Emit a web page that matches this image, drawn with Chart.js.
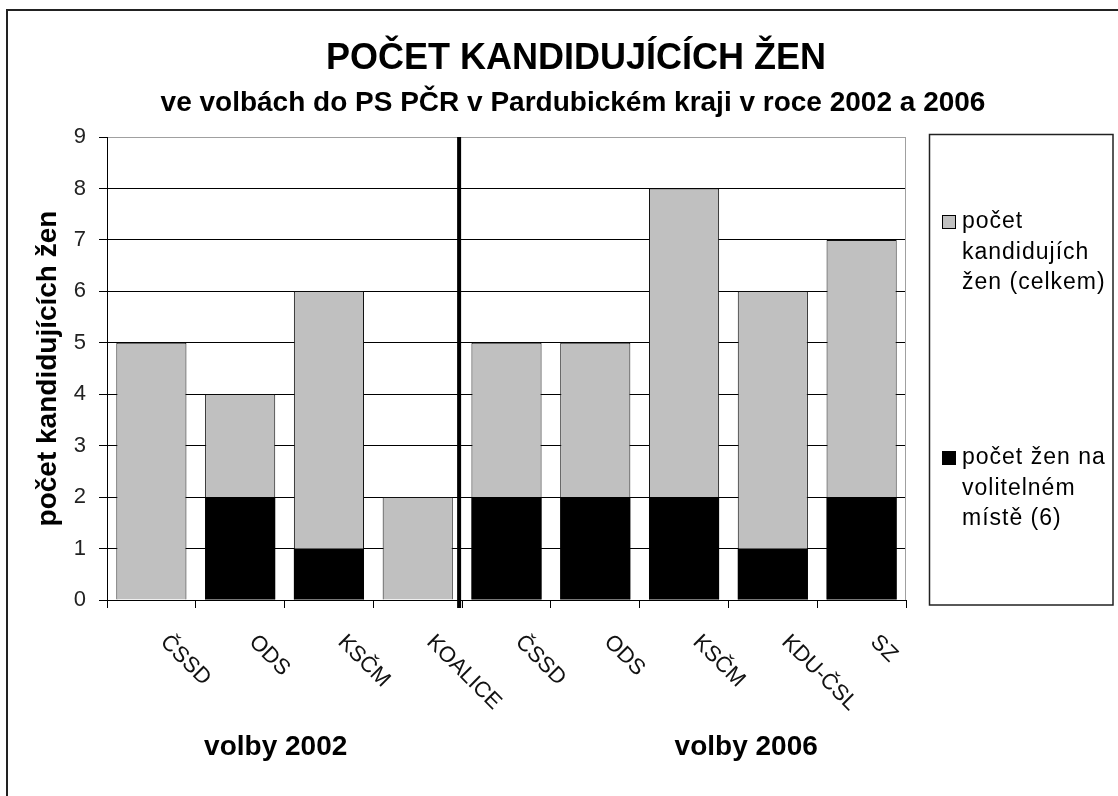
<!DOCTYPE html>
<html>
<head>
<meta charset="utf-8">
<script src="https://cdn.jsdelivr.net/npm/chart.js@4.4.1/dist/chart.umd.min.js"></script>
<style>
  html, body { margin: 0; padding: 0; background: #fff; }
  #wrap { width: 1118px; height: 796px; }
</style>
</head>
<body>
<div id="wrap"><canvas id="zeny" width="1118" height="796"></canvas></div>
<script>
// data
const parties = ['ČSSD', 'ODS', 'KSČM', 'KOALICE', 'ČSSD', 'ODS', 'KSČM', 'KDU-ČSL', 'SZ'];
const totalWomen = [5, 4, 6, 2, 5, 5, 8, 6, 7];
const electableWomen = [0, 2, 1, 0, 2, 2, 2, 1, 2];
const groupLabels = ['volby 2002', 'volby 2006'];
const seriesNames = [
    ['počet', 'kandidujích', 'žen (celkem)'],
    ['počet žen na', 'volitelném', 'místě (6)']
];
const titleText = 'POČET KANDIDUJÍCÍCH ŽEN';
const subtitleText = 've volbách do PS PČR v Pardubickém kraji v roce 2002 a 2006';
const yTitle = 'počet kandidujících žen';

const FONT = '"Liberation Sans", Arial, sans-serif';
const GREY = '#c0c0c0';

const decor = {
    id: 'decor',
    afterDraw(chart) {
        const ctx = chart.ctx;
        const x = chart.scales.x;
        const area = chart.chartArea;
        ctx.save();

        // outer frame (left + top only, picture is cropped)
        ctx.strokeStyle = '#222';
        ctx.lineWidth = 2;
        ctx.beginPath();
        ctx.moveTo(7, 796);
        ctx.lineTo(7, 10);
        ctx.lineTo(1118, 10);
        ctx.stroke();

        // titles
        ctx.fillStyle = '#000';
        ctx.textAlign = 'center';
        ctx.textBaseline = 'alphabetic';
        ctx.font = 'bold 36px ' + FONT;
        ctx.fillText(titleText, 576, 69);
        ctx.font = 'bold 28px ' + FONT;
        ctx.fillText(subtitleText, 573, 111);

        // plot border on the right
        ctx.strokeStyle = '#a0a0a0';
        ctx.lineWidth = 1;
        ctx.beginPath();
        ctx.moveTo(area.right - 0.5, area.top);
        ctx.lineTo(area.right - 0.5, area.bottom);
        ctx.stroke();

        // thick separator between the two elections
        const sep = (x.getPixelForValue(3) + x.getPixelForValue(4)) / 2 - 3;
        ctx.strokeStyle = '#000';
        ctx.lineWidth = 4;
        ctx.beginPath();
        ctx.moveTo(sep, area.top);
        ctx.lineTo(sep, area.bottom + 8);
        ctx.stroke();

        // rotated category labels
        ctx.font = '22px ' + FONT;
        ctx.fillStyle = '#111';
        ctx.textAlign = 'left';
        ctx.textBaseline = 'alphabetic';
        parties.forEach((p, i) => {
            ctx.save();
            ctx.translate(x.getPixelForValue(i) + 8, area.bottom + 43);
            ctx.rotate(Math.PI / 4);
            ctx.fillText(p, 0, 0);
            ctx.restore();
        });

        // group labels
        ctx.font = 'bold 28px ' + FONT;
        ctx.fillStyle = '#000';
        ctx.textAlign = 'center';
        ctx.fillText(groupLabels[0], x.getPixelForValue(1.4), 755);
        ctx.fillText(groupLabels[1], x.getPixelForValue(6.7), 755);

        // legend box
        ctx.strokeStyle = '#222';
        ctx.lineWidth = 1.5;
        ctx.strokeRect(929.5, 134.5, 183.5, 470.5);
        const swatches = [GREY, '#000'];
        const starts = [222, 458];
        ctx.font = '23px ' + FONT;
        ctx.textAlign = 'left';
        ctx.textBaseline = 'middle';
        if ('letterSpacing' in ctx) ctx.letterSpacing = '1px';
        seriesNames.forEach((lines, k) => {
            ctx.fillStyle = swatches[k];
            ctx.fillRect(942, starts[k] - 7, 14, 14);
            ctx.strokeStyle = '#000';
            ctx.lineWidth = 1;
            ctx.strokeRect(942.5, starts[k] - 6.5, 13, 13);
            ctx.fillStyle = '#000';
            lines.forEach((t, j) => ctx.fillText(t, 962, starts[k] + j * 30.5));
        });
        ctx.restore();
    }
};

new Chart(document.getElementById('zeny'), {
    type: 'bar',
    data: {
        labels: parties,
        datasets: [
            {
                label: seriesNames[0].join(' '),
                data: totalWomen,
                backgroundColor: GREY,
                borderColor: '#111',
                borderWidth: 1,
                order: 1
            },
            {
                label: seriesNames[1].join(' '),
                data: electableWomen,
                backgroundColor: '#000',
                borderWidth: 0,
                order: 0
            }
        ]
    },
    options: {
        responsive: false,
        animation: false,
        devicePixelRatio: 1,
        layout: { padding: { left: 0, top: 137, right: 212, bottom: 0 } },
        datasets: { bar: { barPercentage: 0.79, categoryPercentage: 1 } },
        plugins: {
            legend: { display: false },
            tooltip: { enabled: false }
        },
        scales: {
            x: {
                stacked: true,
                afterFit: (s) => { s.height = 196; },
                ticks: { display: false },
                grid: {
                    offset: true,
                    drawOnChartArea: false,
                    drawTicks: true,
                    tickLength: 8,
                    color: '#000'
                },
                border: { color: '#000', width: 1 }
            },
            y: {
                stacked: false,
                min: 0,
                max: 9,
                afterFit: (s) => { s.width = 107; },
                ticks: {
                    stepSize: 1,
                    padding: 13,
                    color: '#222',
                    font: { family: FONT, size: 22 }
                },
                grid: {
                    color: (c) => (c.tick && c.tick.value === 9 ? '#a0a0a0' : '#000'),
                    tickColor: '#000',
                    tickLength: 8
                },
                border: { color: '#000', width: 1 },
                title: {
                    display: true,
                    text: yTitle,
                    color: '#000',
                    font: { family: FONT, size: 28, weight: 'bold' },
                    padding: { top: 31, bottom: 0 }
                }
            }
        }
    },
    plugins: [decor]
});
</script>
</body>
</html>
